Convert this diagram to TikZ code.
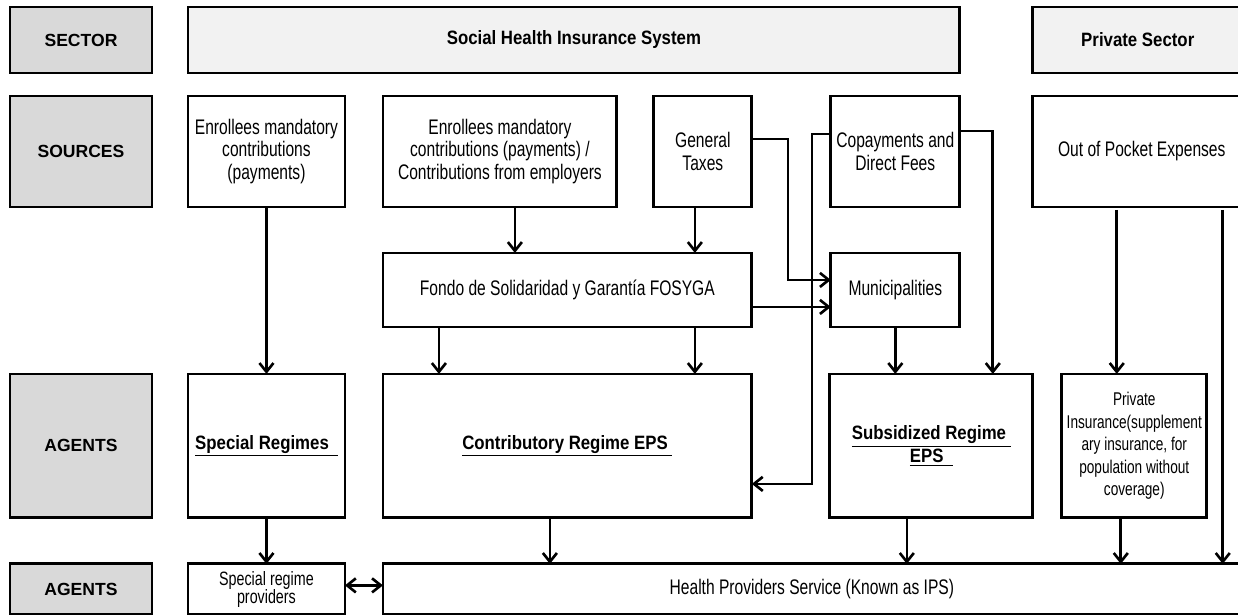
\documentclass[tikz,border=0pt]{standalone}
\usepackage{fontspec}
\setmainfont{Liberation Sans}
\newfontfamily\narrowfont[FakeStretch=0.74]{Liberation Sans}
\newfontfamily\narrowbold[FakeStretch=0.87]{Liberation Sans}
\usetikzlibrary{positioning,arrows.meta}
\definecolor{lblgrey}{HTML}{D9D9D9}
\definecolor{secgrey}{HTML}{F2F2F2}
\tikzset{
  box/.style  ={rectangle, draw=black, line width=1.6pt, fill=white, align=center,
                font=\narrowfont\fontsize{12}{13}\selectfont, inner sep=2pt, outer sep=0pt},
  boxa/.style ={box, font=\narrowbold\fontsize{11}{13}\selectfont\bfseries},
  boxs/.style ={boxa, fill=secgrey, minimum height=1.32cm},
  lbl/.style  ={box, fill=lblgrey, minimum width=2.84cm,
                font=\fontsize{10}{12}\selectfont\bfseries},
  fl/.style   ={-{Straight Barb[length=5pt,width=8pt,line width=1.5pt]}, line width=1.5pt},
  flb/.style  ={{Straight Barb[length=5pt,width=8pt,line width=1.5pt]}-{Straight Barb[length=5pt,width=8pt,line width=1.5pt]},
                line width=1.5pt}
}

\begin{document}
\begin{tikzpicture}[x=0.02cm, y=-0.02cm]
  \useasboundingbox (0,0) rectangle (1238,615);
  \clip (0,0) rectangle (1238,615);

  % row labels
  \node[lbl,minimum height=1.32cm,anchor=north west] (lsector) at (10,7) {SECTOR};
  \node[lbl,minimum height=2.22cm,below=0.46cm of lsector] (lsources) {SOURCES};
  \node[lbl,minimum height=2.88cm,below=3.34cm of lsources] (lagents) {AGENTS};
  \node[lbl,minimum height=1.02cm,below=0.92cm of lagents] (lagents2) {AGENTS};

  % sector
  \node[boxs,right=0.72cm of lsector,minimum width=15.44cm] (shis) {Social Health Insurance System};
  \node[boxs,right=1.46cm of shis,minimum width=4.2cm] (privsec) {Private Sector};

  % sources
  \node[box,right=0.72cm of lsources,minimum width=3.14cm,minimum height=2.22cm] (enr1) {Enrollees mandatory\\contributions\\(payments)};
  \node[box,right=0.76cm of enr1,minimum width=4.68cm,minimum height=2.22cm] (enr2) {Enrollees mandatory\\contributions (payments) /\\Contributions from employers};
  \node[box,right=0.74cm of enr2,minimum width=1.96cm,minimum height=2.22cm] (taxes) {General\\Taxes};
  \node[box,right=1.58cm of taxes,minimum width=2.58cm,minimum height=2.22cm] (copay) {Copayments and\\Direct Fees};
  \node[box,right=1.46cm of copay,minimum width=4.36cm,minimum height=2.22cm] (oop) {Out of Pocket Expenses};

  \node[box,below=0.92cm of enr2.south west,anchor=north west,minimum width=7.38cm,minimum height=1.48cm] (fosyga) {Fondo de Solidaridad y Garantía FOSYGA};
  \node[box,right=1.58cm of fosyga,minimum width=2.58cm,minimum height=1.48cm] (munic) {Municipalities};

  % agents
  \node[boxa,right=0.72cm of lagents,minimum width=3.14cm,minimum height=2.88cm] (special) {\underline{Special Regimes\hspace{5pt}}};
  \node[boxa,right=0.76cm of special,minimum width=7.38cm,minimum height=2.88cm] (contrib) {\underline{Contributory Regime EPS\ }};
  \node[boxa,right=1.56cm of contrib,minimum width=4.06cm,minimum height=2.88cm] (subsid) {\underline{Subsidized Regime\ }\\\underline{EPS\ \ }};
  \node[box,right=0.58cm of subsid,minimum width=2.9cm,minimum height=2.88cm,
        font=\narrowfont\fontsize{10.5}{12.75}\selectfont] (privins) {Private\\Insurance(supplement\\ary insurance, for\\population without\\coverage)};

  % providers
  \node[box,right=0.72cm of lagents2,minimum width=3.14cm,minimum height=1.02cm,
        font=\narrowfont\fontsize{11}{10.5}\selectfont] (sprov) {Special regime\\providers};
  \node[box,right=0.76cm of sprov,minimum width=17.16cm,minimum height=1.02cm] (ips) {Health Providers Service (Known as IPS)};

  % flows
  \draw[fl] (enr1) -- (special);
  \draw[fl] (special) -- (sprov);
  \draw[fl] ([xshift=0.3cm]enr2.south) -- ([xshift=0.3cm]enr2.south |- fosyga.north);
  \draw[fl] ([xshift=-0.16cm]taxes.south) -- ([xshift=-0.16cm]taxes.south |- fosyga.north);
  \draw[fl] ([yshift=0.25cm]taxes.east) -| ([xshift=-0.86cm,yshift=0.2cm]munic.west) -- ([yshift=0.2cm]munic.west);
  \draw[fl] ([yshift=-0.34cm]fosyga.east) -- ([yshift=-0.34cm]fosyga.east -| munic.west);
  \draw[fl] ([yshift=0.35cm]copay.west) -| ([xshift=1.2cm,yshift=-0.76cm]contrib.east) -- ([yshift=-0.76cm]contrib.east);
  \draw[fl] ([yshift=0.41cm]copay.east) -| ([xshift=1.23cm]subsid.north);
  \draw[fl] (munic.south) -- (munic.south |- subsid.north);
  \draw[fl] ([xshift=-2.57cm]fosyga.south) -- ([xshift=-2.57cm]contrib.north);
  \draw[fl] ([xshift=2.55cm]fosyga.south) -- ([xshift=2.55cm]contrib.north);
  \draw[fl] ([xshift=-0.35cm]contrib.south) -- ([xshift=-0.35cm]contrib.south |- ips.north);
  \draw[fl] ([xshift=-0.49cm]subsid.south) -- ([xshift=-0.49cm]subsid.south |- ips.north);
  \draw[fl] ([xshift=-0.35cm,yshift=-0.06cm]privins.north |- oop.south) -- ([xshift=-0.35cm]privins.north);
  \draw[fl] ([xshift=-0.27cm]privins.south) -- ([xshift=-0.27cm]privins.south |- ips.north);
  \draw[fl] ([xshift=0.32cm,yshift=-0.06cm]privins.east |- oop.south) -- ([xshift=0.32cm]privins.east |- ips.north);
  \draw[flb] ([yshift=0.08cm]sprov.east) -- ([yshift=0.08cm]sprov.east -| ips.west);
\end{tikzpicture}
\end{document}
